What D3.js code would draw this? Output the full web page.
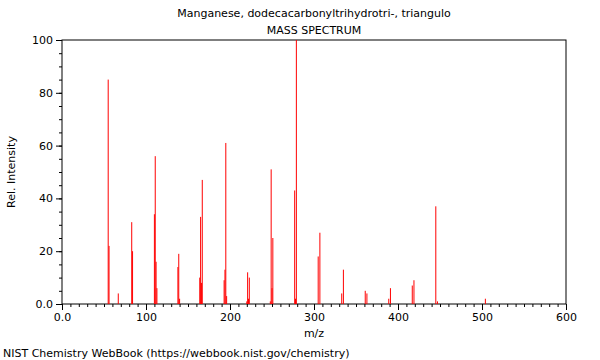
<!DOCTYPE html>
<html>
<head>
<meta charset="utf-8">
<script src="https://cdn.jsdelivr.net/npm/d3@7"></script>
<style>
html,body{margin:0;padding:0;background:#fff;}
svg{display:block;font-family:"DejaVu Sans",sans-serif;}
</style>
</head>
<body>
<svg id="chart" width="600" height="360"></svg>
<script>
const title = "Manganese, dodecacarbonyltrihydrotri-, triangulo";
const subtitle = "MASS SPECTRUM";
const xLabel = "m/z";
const yLabel = "Rel. Intensity";
const footer = "NIST Chemistry WebBook (https://webbook.nist.gov/chemistry)";

const mz = [55, 56, 67, 83, 84, 110, 111, 112, 113, 138, 139, 140,
  164, 165, 166, 167, 193, 194, 195, 196, 220, 221, 222, 223,
  248, 249, 250, 251, 277, 278, 279, 305, 307, 333, 335, 361, 363,
  389, 391, 417, 419, 445, 447, 504];
const intensity = [85, 22, 4, 31, 20, 34, 56, 16, 6, 14, 19, 2,
  10, 33, 8, 47, 9, 13, 61, 3, 1, 12, 2, 10,
  1, 51, 6, 25, 43, 2, 100, 18, 27, 4, 13, 5, 4,
  2, 6, 7, 9, 37, 1, 2];

const xTicks = [0, 100, 200, 300, 400, 500, 600];
const xTickLabels = ["0.0", "100", "200", "300", "400", "500", "600"];
const yTicks = [0, 20, 40, 60, 80, 100];
const yTickLabels = ["0.0", "20", "40", "60", "80", "100"];

const svg = d3.select("#chart");
const m = {left: 62, right: 34, top: 40, bottom: 56};
const W = 600, H = 360;
const x = d3.scaleLinear().domain([0, 600]).range([m.left, W - m.right]);
const y = d3.scaleLinear().domain([0, 100]).range([H - m.bottom, m.top]);

// frame
svg.append("rect")
  .attr("x", x(0)).attr("y", y(100))
  .attr("width", x(600) - x(0)).attr("height", y(0) - y(100))
  .attr("fill", "none").attr("stroke", "#000").attr("stroke-width", 1);

// peaks
svg.append("g").selectAll("line").data(mz.map((d, i) => ({m: d, v: intensity[i]})))
  .join("line")
  .attr("x1", d => x(d.m)).attr("x2", d => x(d.m))
  .attr("y1", y(0)).attr("y2", d => y(d.v))
  .attr("stroke", "#ff0000").attr("stroke-width", 1);

// x axis: minor ticks
const gx = svg.append("g").attr("transform", `translate(0,${y(0)})`);
gx.call(d3.axisBottom(x).tickValues(d3.range(0, 601, 10)).tickSize(3).tickFormat(""))
  .call(g => g.select(".domain").remove());
gx.append("g").call(d3.axisBottom(x).tickValues(xTicks).tickSize(6)
    .tickFormat((d, i) => xTickLabels[i]))
  .call(g => g.select(".domain").remove())
  .call(g => g.selectAll("text").attr("font-size", 11).attr("font-family", "DejaVu Sans").attr("fill", "#000").attr("dy", "0.71em").attr("y", 9));
gx.selectAll("line").attr("stroke", "#000");

// y axis
const gy = svg.append("g").attr("transform", `translate(${x(0)},0)`);
gy.call(d3.axisLeft(y).tickValues(d3.range(0, 101, 5)).tickSize(3).tickFormat(""))
  .call(g => g.select(".domain").remove());
gy.append("g").call(d3.axisLeft(y).tickValues(yTicks).tickSize(6)
    .tickFormat((d, i) => yTickLabels[i]))
  .call(g => g.select(".domain").remove())
  .call(g => g.selectAll("text").attr("font-size", 11).attr("font-family", "DejaVu Sans").attr("fill", "#000").attr("x", -9));
gy.selectAll("line").attr("stroke", "#000");

// texts
const cx = (x(0) + x(600)) / 2;
svg.append("text").attr("x", cx).attr("y", 17).attr("text-anchor", "middle")
  .attr("font-size", 11).text(title);
svg.append("text").attr("x", cx).attr("y", 34).attr("text-anchor", "middle")
  .attr("font-size", 11).text(subtitle);
svg.append("text").attr("x", cx).attr("y", 337).attr("text-anchor", "middle")
  .attr("font-size", 11).text(xLabel);
svg.append("text").attr("transform", `translate(15,${(y(0) + y(100)) / 2}) rotate(-90)`)
  .attr("text-anchor", "middle").attr("font-size", 11).text(yLabel);
svg.append("text").attr("x", 3).attr("y", 357).attr("font-size", 11).text(footer);
</script>
</body>
</html>
